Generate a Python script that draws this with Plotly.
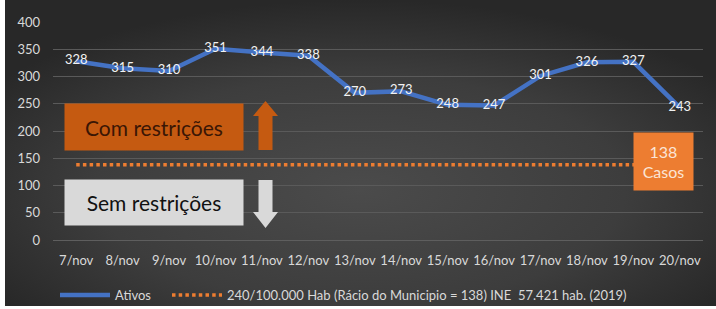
import base64
import plotly.graph_objects as go

# ---- data ----
dates = ["7/nov", "8/nov", "9/nov", "10/nov", "11/nov", "12/nov", "13/nov",
         "14/nov", "15/nov", "16/nov", "17/nov", "18/nov", "19/nov", "20/nov"]
ativos = [328, 315, 310, 351, 344, 338, 270, 273, 248, 247, 301, 326, 327, 243]
limiar = [138] * len(dates)
serie_ativos = "Ativos"
serie_limiar = "240/100.000 Hab (Rácio do Municipio = 138) INE  57.421 hab. (2019)"

W, H = 716, 309
L, R, T, B = 53, 13, 22, 69
PW, PH = W - L - R, H - T - B
YMAX = 400

def px(x):
    return (x - L) / PW

def vy(y):
    return (T + PH - y) / PH * YMAX

def ppy(y):
    return (T + PH - y) / PH

FONT = "Lato, 'Open Sans', sans-serif"
TXT = "#d9d9d9"

fig = go.Figure()
fig.add_trace(go.Scatter(
    x=dates, y=limiar, mode="lines", name=serie_limiar, legend="legend2",
    line=dict(color="#ed7d31", width=3.5, dash="3.5px,3.2px"),
    hoverinfo="skip"))
fig.add_trace(go.Scatter(
    x=dates, y=ativos, mode="lines+text", name=serie_ativos, legend="legend",
    line=dict(color="#4472c4", width=4.5),
    text=[str(v) for v in ativos], textposition="middle center",
    textfont=dict(color="#f2f2f2", size=13, family=FONT)))

# background gradient (style only)
svg = ('<svg xmlns="http://www.w3.org/2000/svg" width="711" height="306" '
       'viewBox="0 0 711 306" preserveAspectRatio="none">'
       '<defs><radialGradient id="g" cx="0.5" cy="0.62" r="0.62" '
       'gradientUnits="objectBoundingBox">'
       '<stop offset="0" stop-color="#4b4b4b"/>'
       '<stop offset="0.6" stop-color="#3d3d3d"/>'
       '<stop offset="1" stop-color="#282828"/>'
       '</radialGradient></defs>'
       '<rect width="711" height="306" fill="url(#g)"/></svg>')
src = "data:image/svg+xml;base64," + base64.b64encode(svg.encode()).decode()
fig.add_layout_image(dict(source=src, xref="paper", yref="paper",
                          x=px(5), y=ppy(0), sizex=711 / PW, sizey=306 / PH,
                          xanchor="left", yanchor="top", sizing="stretch",
                          layer="below"))

# arrows
up = (f"M {px(265.5)} {vy(101)} L {px(278)} {vy(116)} L {px(272.5)} {vy(116)} "
      f"L {px(272.5)} {vy(150)} L {px(258.5)} {vy(150)} L {px(258.5)} {vy(116)} "
      f"L {px(253)} {vy(116)} Z")
down = (f"M {px(258.5)} {vy(180)} L {px(272.5)} {vy(180)} L {px(272.5)} {vy(212)} "
        f"L {px(278)} {vy(212)} L {px(265.5)} {vy(228)} L {px(253)} {vy(212)} "
        f"L {px(258.5)} {vy(212)} Z")
fig.add_shape(type="path", path=up, xref="paper", yref="y",
              fillcolor="#c55a11", line=dict(width=0), layer="above")
fig.add_shape(type="path", path=down, xref="paper", yref="y",
              fillcolor="#d9d9d9", line=dict(width=0), layer="above")

# text boxes
fig.add_annotation(x=px(154), y=vy(127), xref="paper", yref="y",
                   xanchor="center", yanchor="middle",
                   text="Com restrições", showarrow=False,
                   width=178, height=46, borderpad=0, bgcolor="#c55a11",
                   font=dict(size=21, color="#3a1605", family=FONT))
fig.add_annotation(x=px(154), y=vy(202.5), xref="paper", yref="y",
                   xanchor="center", yanchor="middle",
                   text="Sem restrições", showarrow=False,
                   width=178, height=45, borderpad=0, bgcolor="#d9d9d9",
                   font=dict(size=21, color="#111111", family=FONT))
fig.add_annotation(x=px(663.5), y=vy(161.5), xref="paper", yref="y",
                   xanchor="center", yanchor="middle",
                   text="138<br>Casos", showarrow=False,
                   width=59, height=57, borderpad=0, bgcolor="#ed7d31",
                   font=dict(size=16, color="#fbe5d6", family=FONT))

leg_common = dict(orientation="h", xanchor="left", y=ppy(295), yanchor="middle",
                  font=dict(size=13, color=TXT), bgcolor="rgba(0,0,0,0)",
                  itemwidth=50)

fig.update_layout(
    width=W, height=H,
    margin=dict(l=L, r=R, t=T, b=B, autoexpand=False),
    paper_bgcolor="white",
    plot_bgcolor="rgba(0,0,0,0)",
    font=dict(family=FONT, color=TXT, size=13),
    showlegend=True,
    legend=dict(x=px(55), **leg_common),
    legend2=dict(x=px(167), **leg_common),
    xaxis=dict(type="category", range=[-0.5, len(dates) - 0.5],
               showgrid=False, showline=True, linecolor="#5e5e5e",
               ticks="outside", tickson="boundaries", ticklen=0,
               ticklabelstandoff=8, automargin=False,
               tickfont=dict(size=13, color=TXT), fixedrange=True),
    yaxis=dict(range=[0, YMAX], dtick=50, showgrid=True, gridcolor="#5a5a5a",
               gridwidth=1, zeroline=False, showline=False, automargin=False,
               tickfont=dict(size=13, color=TXT), ticklabelstandoff=12,
               fixedrange=True),
)

fig.write_html("out.html", config={"displayModeBar": False},
               post_script="document.body.style.margin='0';")
